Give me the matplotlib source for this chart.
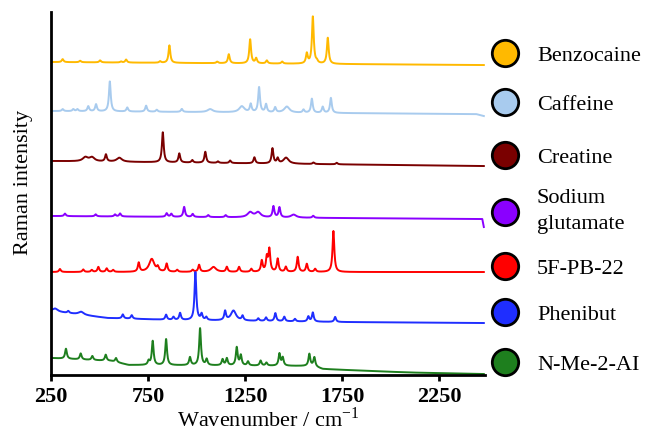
import numpy as np
import matplotlib.pyplot as plt
from matplotlib.lines import Line2D

plt.rcParams['font.family'] = ['Liberation Serif', 'DejaVu Serif']

names = ['Benzocaine', 'Caffeine', 'Creatine', 'Sodium\nglutamate',
         '5F-PB-22', 'Phenibut', 'N-Me-2-AI']
colors = ['#FFB900', '#A8CBEE', '#7A0000', '#8A00FF',
          '#FF0000', '#1F2EFF', '#1E7F1E']

# peak positions (cm-1) and heights (arb.)
benzo_pos = [310, 400, 503, 611, 637, 812, 860, 1106, 1166, 1276, 1307, 1362, 1441, 1568, 1599, 1620, 1676]
benzo_h = [3, 1.5, 2, 1, 3, 1.5, 17.5, 1.5, 9, 24, 5, 3, 2, 10, 47, 2, 26]
benzo_broad = []
benzo_bx = [250, 2480]
benzo_by = [313, 310]

caff_pos = [310, 365, 386, 442, 482, 553, 643, 740, 795, 924, 1070, 1233, 1279, 1322, 1358, 1405, 1465, 1551, 1594, 1650, 1692]
caff_h = [2, 2, 2, 5, 7, 30, 4, 6, 2, 3, 3, 6, 8, 25, 8, 5, 6, 3, 14, 6, 15]
caff_broad = [1070, 1233, 1465]
caff_bx = [250, 2440, 2480]
caff_by = [264, 261, 259]

creat_pos = [427, 461, 533, 602, 826, 911, 978, 1045, 1110, 1173, 1298, 1391, 1418, 1461, 1602, 1722]
creat_h = [4, 4, 7, 4, 30, 9, 2.5, 11, 1.5, 2.5, 6, 15, 5, 6, 1.5, 1.5]
creat_broad = [427, 461, 602, 1461]
creat_bx = [250, 2480]
creat_by = [214, 209]

glu_pos = [322, 480, 580, 606, 846, 870, 936, 980, 1060, 1150, 1276, 1317, 1396, 1427, 1500, 1601]
glu_h = [2.5, 2, 2, 3, 3.5, 3, 10, 3, 2, 2, 5, 5, 11, 10, 3, 2]
glu_broad = [1276, 1317, 1500]
glu_bx = [250, 2472, 2480]
glu_by = [159, 156, 148]

pb_pos = [296, 416, 460, 494, 537, 570, 702, 769, 800, 846, 900, 980, 1013, 1087, 1156, 1219, 1282, 1336, 1362, 1375, 1418, 1460, 1521, 1568, 1611, 1705]
pb_h = [3, 2.5, 2, 5, 3.5, 2, 9, 13, 4, 8, 2, 2, 7, 5, 5, 5, 3, 11, 14, 22, 13, 5, 15, 8, 3, 41]
pb_broad = [769, 1087]
pb_bx = [250, 2480]
pb_by = [103, 103]

phen_pos = [271, 339, 405, 620, 666, 843, 881, 915, 994, 1026, 1050, 1147, 1190, 1237, 1318, 1358, 1406, 1452, 1507, 1576, 1599, 1714]
phen_h = [3, 2, 3, 4, 3.5, 5, 3, 7, 48, 6, 3, 9, 10, 4.5, 2.5, 3.5, 8, 4.5, 2.5, 5, 9, 5]
phen_broad = [271, 405, 1190]
phen_bx = [250, 540, 880, 1740, 2480]
phen_by = [64, 57, 55, 53, 52]

nme_pos = [327, 403, 463, 532, 585, 753, 774, 843, 966, 1018, 1052, 1134, 1156, 1207, 1228, 1265, 1330, 1360, 1427, 1444, 1581, 1607]
nme_h = [10, 6, 4, 6, 4, 4, 24, 26, 8, 37, 6, 6, 7, 18, 10, 4, 5, 3, 12, 8, 12, 9]
nme_broad = []
nme_bx = [250, 560, 650, 1600, 1650, 1900, 2100, 2480]
nme_by = [17, 14, 10, 9, 6, 4, 2.5, 1]

series = [
    (benzo_pos, benzo_h, benzo_broad, benzo_bx, benzo_by),
    (caff_pos, caff_h, caff_broad, caff_bx, caff_by),
    (creat_pos, creat_h, creat_broad, creat_bx, creat_by),
    (glu_pos, glu_h, glu_broad, glu_bx, glu_by),
    (pb_pos, pb_h, pb_broad, pb_bx, pb_by),
    (phen_pos, phen_h, phen_broad, phen_bx, phen_by),
    (nme_pos, nme_h, nme_broad, nme_bx, nme_by),
]

wn = np.arange(250, 2481, 1.0)


def spectrum(pos, h, broad, bx, by):
    y = np.interp(wn, bx, by)
    for p, a in zip(pos, h):
        g = 16.0 if p in broad else 5.5
        y = y + a * g**2 / ((wn - p)**2 + g**2)
    return y


fig = plt.figure(figsize=(6.49, 4.35), dpi=100)
ax = fig.add_axes([0.0786, 0.1356, 0.6684, 0.8344])

for (pos, h, broad, bx, by), c in zip(series, colors):
    ax.plot(wn, spectrum(pos, h, broad, bx, by), color=c, lw=1.4)

ax.set_xlim(250, 2485)
ax.set_ylim(0, 363)
ax.set_xticks([250, 750, 1250, 1750, 2250])
for lab in ax.get_xticklabels():
    lab.set_fontweight('bold')
ax.tick_params(axis='x', labelsize=16, width=2, length=4, pad=4)
ax.set_yticks([])
for s in ['top', 'right']:
    ax.spines[s].set_visible(False)
for s in ['left', 'bottom']:
    ax.spines[s].set_linewidth(2)

ax.set_xlabel('Wavenumber / cm$^{\\mathregular{-1}}$', fontsize=16, labelpad=0)
ax.set_ylabel('Raman intensity', fontsize=16)
ax.yaxis.set_label_coords(-0.041, 0.534)

# legend drawn by hand at the right (pixel rows of the markers)
leg_y = [54, 103, 156, 213, 267, 313, 363]
for name, c, yp in zip(names, colors, leg_y):
    fig.add_artist(Line2D([505 / 649], [1 - yp / 435], marker='o', markersize=19,
                          color=c, markeredgecolor='black', markeredgewidth=2,
                          transform=fig.transFigure, linestyle='none'))
    lines = name.split('\n')
    base = yp + 7.5 if len(lines) == 1 else 203
    for i, ln in enumerate(lines):
        fig.text(537 / 649, 1 - (base + 26 * i) / 435, ln, fontsize=16,
                 va='baseline', ha='left')

fig.savefig('out.png', dpi=100)
